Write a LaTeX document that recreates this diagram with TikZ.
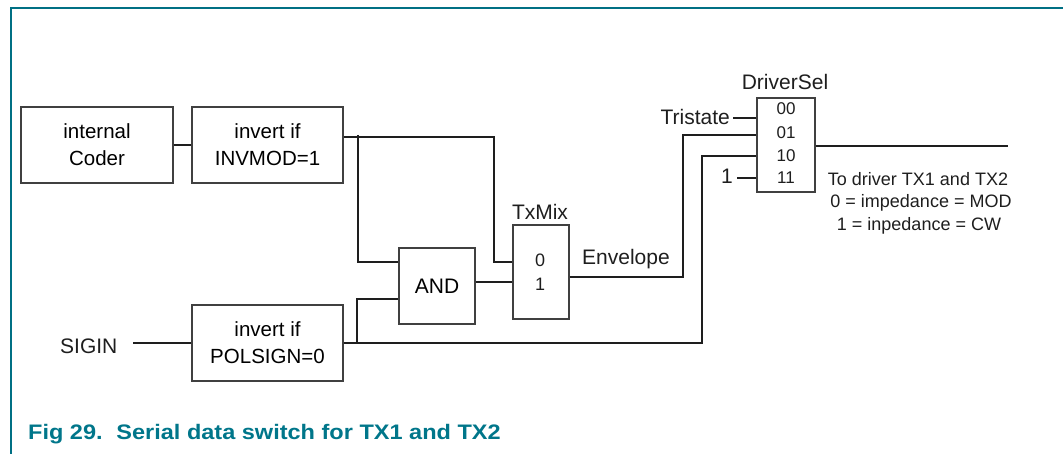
\documentclass[tikz,border=0pt]{standalone}
\usepackage{fontspec}
\setmainfont{Liberation Sans}
\newfontfamily\capfont[FakeStretch=1.12]{Liberation Sans}
\definecolor{nxpteal}{RGB}{0,118,138}
\definecolor{frameteal}{RGB}{0,112,132}
\definecolor{ink}{RGB}{30,30,30}
\begin{document}
\begin{tikzpicture}[x=1pt,y=-1pt,
  box/.style={draw=ink!85, line width=1.3pt, align=center, inner sep=0pt,
    font=\fontsize{20.5}{27}\selectfont},
  lbl/.style={inner sep=0pt, font=\fontsize{21}{25}\selectfont, text=ink},
  dig/.style={inner sep=0pt, font=\fontsize{17}{20}\selectfont, text=ink},
  rtxt/.style={inner sep=0pt, font=\fontsize{18}{22}\selectfont, text=ink},
  wire/.style={draw=ink, line width=1.5pt}]
\useasboundingbox (0,0) rectangle (1063,454);
% frame
\draw[frameteal, line width=1.3pt] (1063,8) -- (11,8) -- (11,454);
% boxes
\node[box, minimum width=152pt, minimum height=76pt] (coder) at (97,145) {internal\\Coder};
\node[box, minimum width=151pt, minimum height=76pt] (invmod) at (267.5,145) {invert if\\INVMOD=1};
\node[box, minimum width=151pt, minimum height=76pt] (polsign) at (267.5,343) {invert if\\POLSIGN=0};
\node[box, minimum width=76pt, minimum height=76pt, font=\fontsize{21}{25}\selectfont] (and) at (437,286) {AND};
\node[box, minimum width=56pt, minimum height=94pt] (txmix) at (541,272) {};
\node[box, minimum width=58pt, minimum height=94pt] (drv) at (786,145) {};
% labels
\node[lbl, anchor=base west] (sigin) at (60,353) {SIGIN};
\node[lbl, anchor=base] (txmixl) at (540,220) {TxMix};
\node[lbl, anchor=base] (drvl) at (785,90) {DriverSel};
\node[lbl, anchor=base east] (tri) at (730,125) {Tristate};
\node[lbl, anchor=base west] (env) at (582,265) {Envelope};
\node[lbl, anchor=base] (one) at (727,184) {1};
\node[inner sep=0pt, font=\fontsize{18}{22}\selectfont, text=ink, anchor=base] (tx0) at (540,266.5) {0};
\node[inner sep=0pt, font=\fontsize{18}{22}\selectfont, text=ink, anchor=base] (tx1) at (540,290.5) {1};
\node[dig, anchor=base] (d00) at (786,115) {00};
\node[dig, anchor=base] (d01) at (786,139) {01};
\node[dig, anchor=base] (d10) at (786,162) {10};
\node[dig, anchor=base] (d11) at (786,184) {11};
\node[rtxt, anchor=base] (r1) at (918,186) {To driver TX1 and TX2};
\node[rtxt, anchor=base] (r2) at (921,208) {0 = impedance = MOD};
\node[rtxt, anchor=base] (r3) at (919,231) {1 = inpedance = CW};
\node[inner sep=0pt, anchor=base west, text=nxpteal, font=\capfont\bfseries\fontsize{21}{25}\selectfont] (cap) at (28,439) {Fig 29.\hspace{5pt} Serial data switch for TX1 and TX2};
% junction coordinates
\coordinate (ja) at (494,137);
\coordinate (jb) at (358,135);
\coordinate (jc) at (702,343);
\coordinate (jd) at (357,343);
\coordinate (je) at (683,277);
\coordinate (out) at (1008,146);
\coordinate (tristart) at (733,118);
\coordinate (onestart) at (737,178);
\coordinate (siginstart) at (133,343);
% wires
\draw[wire] (coder) -- (invmod);
\draw[wire] ([yshift=8pt]invmod.east) -- (ja) |- ([yshift=10pt]txmix.west);
\draw[wire] (jb) |- ([yshift=24pt]and.west);
\draw[wire] (siginstart) -- (polsign.west);
\draw[wire] (polsign.east) -- (jc) |- ([yshift=-11pt]drv.west);
\draw[wire] (jd) |- ([yshift=-13pt]and.west);
\draw[wire] ([yshift=4pt]and.east) -- ([yshift=-10pt]txmix.west);
\draw[wire] ([yshift=-5pt]txmix.east) -- (je) |- ([yshift=10pt]drv.west);
\draw[wire] ([yshift=-1pt]drv.east) -- (out);
\draw[wire] (tristart) -- (tristart -| drv.west);
\draw[wire] (onestart) -- (onestart -| drv.west);
\end{tikzpicture}
\end{document}
